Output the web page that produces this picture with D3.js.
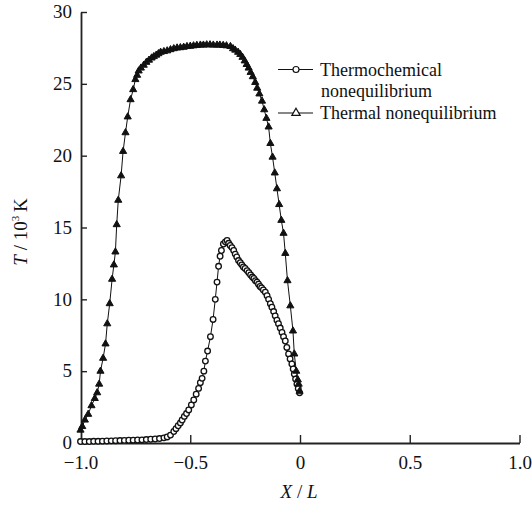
<!DOCTYPE html>
<html><head><meta charset="utf-8">
<script src="https://cdn.jsdelivr.net/npm/d3@7"></script>
<style>
body{margin:0;background:#fff;}
svg text{font-family:"Liberation Serif","Liberation Sans",Arial,sans-serif;}
</style></head>
<body><svg id="c" width="532" height="505"></svg>
<script>
const xTicks = [-1.0, -0.5, 0, 0.5, 1.0];
const xTickLabels = ["\u22121.0", "\u22120.5", "0", "0.5", "1.0"];
const yTicks = [0, 5, 10, 15, 20, 25, 30];
const seriesNames = ["Thermochemical nonequilibrium", "Thermal nonequilibrium"];

// Thermal nonequilibrium (triangles): [X/L, T/10^3 K]
const thermalX = [-1.0,-0.992,-0.98,-0.965,-0.95,-0.935,-0.924,-0.915,-0.909,-0.897,-0.886,-0.878,-0.867,-0.856,-0.848,-0.841,-0.835,-0.828,-0.815,-0.806,-0.795,-0.785,-0.772,-0.76,-0.75,-0.742,-0.735,-0.725,-0.712,-0.70,-0.688,-0.676,-0.666,-0.655,-0.645,-0.635,-0.62,-0.605,-0.59,-0.575,-0.56,-0.545,-0.53,-0.515,-0.50,-0.485,-0.47,-0.454,-0.44,-0.425,-0.41,-0.395,-0.378,-0.365,-0.35,-0.335,-0.317,-0.305,-0.295,-0.282,-0.272,-0.262,-0.252,-0.243,-0.234,-0.225,-0.215,-0.204,-0.195,-0.185,-0.173,-0.163,-0.153,-0.143,-0.135,-0.125,-0.115,-0.105,-0.095,-0.085,-0.075,-0.067,-0.057,-0.044,-0.032,-0.026,-0.017,-0.01,-0.006,-0.002];
const thermalT = [0.9,1.15,1.6,2.0,2.6,3.1,3.5,4.1,5.0,5.9,6.9,8.3,9.7,11.4,12.4,13.3,15.2,16.9,18.6,20.3,21.6,22.7,23.9,24.6,25.3,25.6,25.9,26.1,26.3,26.5,26.65,26.8,26.9,27.0,27.1,27.2,27.25,27.3,27.38,27.45,27.5,27.52,27.55,27.6,27.62,27.65,27.68,27.7,27.7,27.72,27.72,27.7,27.7,27.7,27.68,27.65,27.6,27.45,27.35,27.2,27.05,26.85,26.6,26.35,26.1,25.8,25.5,25.1,24.7,24.3,23.8,23.2,22.6,22.0,20.85,19.9,18.8,17.7,16.6,15.5,14.6,13.2,11.3,9.55,7.8,6.2,5.0,4.4,4.1,3.6];

// Thermochemical nonequilibrium (circles)
const chemX = [-1.0,-0.98,-0.96,-0.94,-0.92,-0.90,-0.88,-0.86,-0.84,-0.82,-0.80,-0.78,-0.76,-0.74,-0.72,-0.70,-0.68,-0.66,-0.64,-0.62,-0.605,-0.59,-0.575,-0.565,-0.555,-0.545,-0.537,-0.527,-0.517,-0.507,-0.495,-0.484,-0.473,-0.462,-0.454,-0.446,-0.438,-0.431,-0.421,-0.408,-0.396,-0.386,-0.378,-0.371,-0.364,-0.358,-0.349,-0.340,-0.332,-0.325,-0.318,-0.310,-0.302,-0.295,-0.288,-0.280,-0.272,-0.265,-0.258,-0.250,-0.241,-0.233,-0.225,-0.217,-0.21,-0.203,-0.196,-0.189,-0.182,-0.175,-0.167,-0.158,-0.150,-0.143,-0.135,-0.128,-0.12,-0.113,-0.105,-0.098,-0.09,-0.082,-0.075,-0.067,-0.06,-0.052,-0.045,-0.037,-0.031,-0.026,-0.02,-0.014,-0.008,-0.002];
const chemT = [0.1,0.1,0.1,0.12,0.12,0.13,0.14,0.15,0.16,0.17,0.18,0.19,0.2,0.21,0.22,0.24,0.26,0.28,0.31,0.36,0.42,0.55,0.8,1.0,1.2,1.4,1.6,1.85,2.05,2.3,2.65,3.0,3.4,3.8,4.2,4.5,5.0,5.7,6.4,7.4,8.6,10.0,11.2,12.3,13.0,13.4,13.85,14.0,14.1,13.9,13.75,13.6,13.4,13.15,12.95,12.7,12.55,12.4,12.25,12.15,12.0,11.85,11.7,11.55,11.45,11.3,11.2,11.05,10.9,10.8,10.65,10.5,10.25,10.0,9.7,9.45,9.15,8.85,8.55,8.3,8.0,7.7,7.4,7.1,6.65,6.2,5.85,5.5,5.15,4.8,4.45,4.1,3.8,3.5];

const thermal = thermalX.map((x,i)=>({x, y: thermalT[i]}));
const chem = chemX.map((x,i)=>({x, y: chemT[i]}));

const svg = d3.select("#c");
const TICKFONT = 19, LEGFONT = 18;
const x = d3.scaleLinear().domain([-1,1]).range([80.5,519.5]);
const y = d3.scaleLinear().domain([0,30]).range([443,12]);

// axes
const xAxis = d3.axisBottom(x).tickValues(xTicks)
  .tickFormat((d,i)=>xTickLabels[i]).tickSizeInner(-8).tickSizeOuter(0).tickPadding(13);
const gx = svg.append("g").attr("transform",`translate(0,${y(0)})`).call(xAxis);
const yAxis = d3.axisLeft(y).tickValues(yTicks).tickFormat(d3.format("d"))
  .tickSizeInner(-6).tickSizeOuter(0).tickPadding(9);
const gy = svg.append("g").attr("transform",`translate(${x(-1)+0.5},0)`).call(yAxis);
[gx,gy].forEach(g=>{
  g.attr("font-family",null).attr("font-size",null);
  g.selectAll("path.domain").attr("stroke","#222").attr("stroke-width",1.8);
  g.selectAll(".tick line").attr("stroke","#222").attr("stroke-width",1.4);
  g.selectAll(".tick text").attr("fill","#111").style("font-size",TICKFONT+"px");
});
gx.select(".tick line").remove();
gy.selectAll(".tick text").attr("dy","0.3em");

// lines
const line = d3.line().x(d=>x(d.x)).y(d=>y(d.y));
svg.append("path").datum(chem).attr("d",line).attr("fill","none").attr("stroke","#111").attr("stroke-width",1);
svg.append("path").datum(thermal).attr("d",line).attr("fill","none").attr("stroke","#111").attr("stroke-width",1);

// markers
svg.append("g").selectAll("circle").data(chem).join("circle")
  .attr("cx",d=>x(d.x)).attr("cy",d=>y(d.y)).attr("r",2.8)
  .attr("fill","#fff").attr("stroke","#111").attr("stroke-width",1.3);
const tri = d3.symbol().type(d3.symbolTriangle).size(22);
svg.append("g").selectAll("path").data(thermal).join("path")
  .attr("d",tri).attr("transform",d=>`translate(${x(d.x)},${y(d.y)})`)
  .attr("fill","#111").attr("stroke","#111").attr("stroke-width",1);

// legend
const lg = svg.append("g");
const legendRows = [
  {name: seriesNames[0], lines:["Thermochemical","nonequilibrium"], ly:69.5, sym:"circle"},
  {name: seriesNames[1], lines:["Thermal nonequilibrium"], ly:113, sym:"tri"}
];
legendRows.forEach(r=>{
  lg.append("line").attr("x1",278).attr("x2",313).attr("y1",r.ly).attr("y2",r.ly)
    .attr("stroke","#111").attr("stroke-width",1.2);
  if(r.sym==="circle"){
    lg.append("circle").attr("cx",296).attr("cy",r.ly).attr("r",3).attr("fill","#fff").attr("stroke","#111").attr("stroke-width",1.2);
  } else {
    lg.append("path").attr("d",d3.symbol().type(d3.symbolTriangle).size(30)).attr("transform",`translate(296,${r.ly})`)
      .attr("fill","#fff").attr("stroke","#111").attr("stroke-width",1.2);
  }
  r.lines.forEach((t,i)=>{
    lg.append("text").attr("x",320+(i>0?1:0)).attr("y",r.ly+6+i*21.5)
      .style("font-size",LEGFONT+"px").attr("fill","#111").text(t);
  });
});

// axis titles
const xl = svg.append("text").attr("x",299).attr("y",498).attr("text-anchor","middle")
  .style("font-size","19px").attr("fill","#111");
xl.append("tspan").style("font-style","italic").text("X");
xl.append("tspan").text(" / ");
xl.append("tspan").style("font-style","italic").text("L");

const yl = svg.append("text").attr("transform","translate(27,232) rotate(-90)").attr("text-anchor","middle")
  .style("font-size","19px").attr("fill","#111");
yl.append("tspan").style("font-style","italic").text("T");
yl.append("tspan").text(" / 10");
yl.append("tspan").attr("dy",-8).style("font-size","11px").text("3");
yl.append("tspan").attr("dy",8).text("\u2009K");
</script></body></html>
